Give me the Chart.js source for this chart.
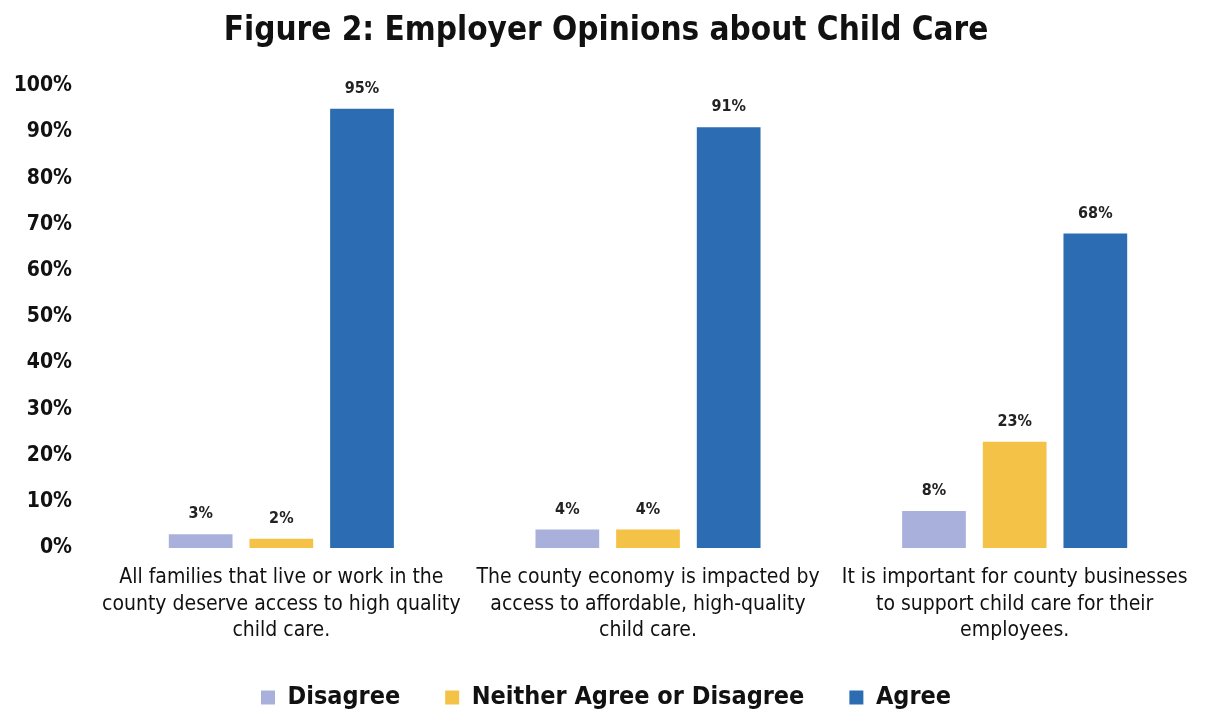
<!DOCTYPE html>
<html>
<head>
<meta charset="utf-8">
<script src="https://cdn.jsdelivr.net/npm/chart.js@4"></script>
<style>
  html, body { margin: 0; padding: 0; background: #fff; }
  #wrap { width: 1207px; height: 717px; }
</style>
</head>
<body>
<div id="wrap"><canvas id="opinionsChart"></canvas></div>
<script>
const FONT = "'DejaVu Sans Condensed', 'Liberation Sans Narrow', sans-serif";

// survey statements (x axis)
const statements = [
    ["All families that live or work in the", "county deserve access to high quality", "child care."],
    ["The county economy is impacted by", "access to affordable, high-quality", "child care."],
    ["It is important for county businesses", "to support child care for their", "employees."]
];

// percent of employers per answer
const disagree = [3, 4, 8];
const neither = [2, 4, 23];
const agree = [95, 91, 68];

const yTicks = [0, 10, 20, 30, 40, 50, 60, 70, 80, 90, 100];

// writes the value above each bar
const barValueLabels = {
    id: 'barValueLabels',
    afterDatasetsDraw(chart) {
        const ctx = chart.ctx;
        ctx.save();
        ctx.font = "bold 16px " + FONT;
        ctx.fillStyle = '#222';
        ctx.textAlign = 'center';
        ctx.textBaseline = 'bottom';
        chart.data.datasets.forEach((ds, i) => {
            chart.getDatasetMeta(i).data.forEach((bar, j) => {
                ctx.fillText(ds.data[j] + '%', bar.x, bar.y - 12);
            });
        });
        ctx.restore();
    }
};

// legend padding is large for the gaps between items, keep its box short
const legendHeight = {
    id: 'legendHeight',
    beforeInit(chart) {
        const originalFit = chart.legend.fit;
        chart.legend.fit = function fit() {
            originalFit.bind(chart.legend)();
            this.height = 77;
        };
    }
};

let canvas = document.querySelector('#opinionsChart');
let chart = new Chart(canvas, {
    type: 'bar',
    data: {
        labels: statements,
        datasets: [
            {
                label: 'Disagree',
                data: disagree,
                backgroundColor: '#aab0dc'
            },
            {
                label: 'Neither Agree or Disagree',
                data: neither,
                backgroundColor: '#f4c246'
            },
            {
                label: 'Agree',
                data: agree,
                backgroundColor: '#2b6cb3'
            }
        ]
    },
    options: {
        responsive: true,
        maintainAspectRatio: false,
        animation: false,
        layout: {
            padding: { left: 14, right: 9, top: 0, bottom: 0 }
        },
        datasets: {
            bar: {
                categoryPercentage: 0.66,
                barPercentage: 0.79
            }
        },
        plugins: {
            title: {
                display: true,
                text: 'Figure 2: Employer Opinions about Child Care',
                color: '#111',
                font: { family: FONT, size: 33, weight: 'bold' },
                padding: { top: 12, bottom: 34 }
            },
            legend: {
                position: 'bottom',
                labels: {
                    color: '#111',
                    font: { family: FONT, size: 25, weight: 'bold' },
                    boxWidth: 14,
                    boxHeight: 14,
                    padding: 45
                }
            },
            tooltip: { enabled: false }
        },
        scales: {
            x: {
                grid: { display: false, drawTicks: false },
                border: { display: false },
                // long labels may spill past the plot edges
                afterFit: (axis) => {
                    axis.paddingLeft = 0;
                    axis.paddingRight = 0;
                    axis.height = 92;
                },
                ticks: {
                    color: '#111',
                    padding: 17,
                    font: { family: FONT, size: 21, lineHeight: 1.24 },
                    maxRotation: 0,
                    autoSkip: false
                }
            },
            y: {
                min: 0,
                max: 100,
                afterBuildTicks: (axis) => {
                    axis.ticks = yTicks.map(v => ({ value: v }));
                },
                afterFit: (axis) => {
                    axis.width = 84;
                },
                grid: { display: false, drawTicks: false },
                border: { display: false },
                ticks: {
                    color: '#111',
                    padding: 26,
                    font: { family: FONT, size: 21, weight: 'bold' },
                    callback: (value) => value + '%'
                }
            }
        }
    },
    plugins: [barValueLabels, legendHeight]
});
</script>
</body>
</html>
